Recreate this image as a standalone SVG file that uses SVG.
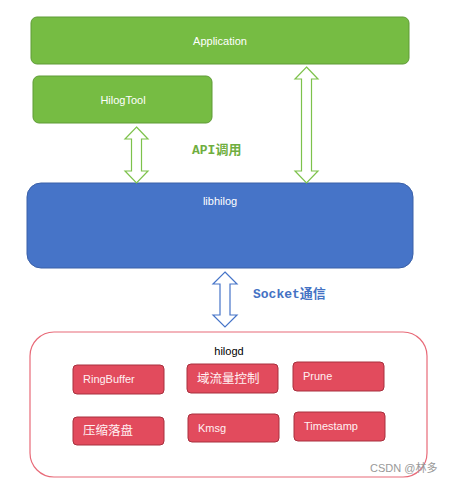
<svg xmlns="http://www.w3.org/2000/svg" width="452" height="483" viewBox="0 0 452 483">
<style>
.green{fill:#76BC43;stroke:#5F9B37;stroke-width:1}
.blue{fill:#4674C8;stroke:#3A60A8;stroke-width:1}
.red{fill:#E24B5D;stroke:#A8303E;stroke-width:1}
.lbl{font-family:"Liberation Sans","Open Sans",sans-serif;font-size:11px;fill:#FFFFFF}
.sub{font-family:"Liberation Sans","Open Sans","Noto Sans CJK SC",sans-serif;font-size:11px;fill:#FFF0F2}
.cjk{font-family:"Noto Sans CJK SC",sans-serif;font-size:12.5px;fill:#FFF0F2}
.ga{fill:#FFFFFF;stroke:#7DC24B;stroke-width:1.2}
.ba{fill:#FFFFFF;stroke:#4674C8;stroke-width:1.2}
.note{font-family:"Liberation Mono","Noto Sans CJK SC",monospace;font-size:13px;font-weight:bold}
</style>
<rect width="452" height="483" fill="#FFFFFF"/>
<g id="application">
<rect class="green" x="31" y="17" width="378" height="47" rx="6"/>
<text class="lbl" x="220" y="45" text-anchor="middle">Application</text>
</g>
<g id="hilogtool">
<rect class="green" x="33" y="76" width="179" height="47" rx="6"/>
<text class="lbl" x="123" y="104" text-anchor="middle">HilogTool</text>
</g>
<g id="libhilog">
<rect class="blue" x="27" y="183" width="386" height="85" rx="14"/>
<text class="lbl" x="220" y="205" text-anchor="middle">libhilog</text>
</g>
<g id="hilogd">
<rect x="30" y="332" width="397" height="145" rx="24" fill="#FFFFFF" stroke="#E86A78" stroke-width="1.2"/>
<text x="229" y="355" text-anchor="middle" font-family="Liberation Sans,sans-serif" font-size="11" fill="#000000">hilogd</text>
</g>
<g id="ringbuffer">
<rect class="red" x="73" y="365" width="91" height="29" rx="4"/>
<text class="sub" x="83" y="383">RingBuffer</text>
</g>
<g id="flowctrl">
<rect class="red" x="187" y="364" width="91" height="29" rx="4"/>
<text class="cjk" x="197" y="383">域流量控制</text>
</g>
<g id="prune">
<rect class="red" x="293" y="362" width="91" height="29" rx="4"/>
<text class="sub" x="303" y="380">Prune</text>
</g>
<g id="compress">
<rect class="red" x="73" y="417" width="91" height="28" rx="4"/>
<text class="cjk" x="83" y="435">压缩落盘</text>
</g>
<g id="kmsg">
<rect class="red" x="188" y="414" width="91" height="28" rx="4"/>
<text class="sub" x="198" y="432">Kmsg</text>
</g>
<g id="timestamp">
<rect class="red" x="294" y="412" width="91" height="29" rx="4"/>
<text class="sub" x="304" y="430">Timestamp</text>
</g>
<g id="connectors">
<path class="ga" d="M136.5,127 L148,139 L141.5,139 L141.5,171 L148,171 L136.5,183 L125,171 L131.5,171 L131.5,139 L125,139 Z"/>
<path class="ga" d="M306.5,67 L318,79 L311.5,79 L311.5,171 L318,171 L306.5,183 L295,171 L301.5,171 L301.5,79 L295,79 Z"/>
<path class="ba" d="M225,272 L237,284 L230,284 L230,315 L237,315 L225,327 L213,315 L220,315 L220,284 L213,284 Z"/>
<text class="note" x="192" y="154" fill="#6FAE3F">API调用</text>
<text class="note" x="253" y="298" fill="#4472C4">Socket通信</text>
</g>
<text x="370" y="472" font-family="Liberation Sans,Noto Sans CJK SC,sans-serif" font-size="11" fill="#999999">CSDN @林多</text>
</svg>
